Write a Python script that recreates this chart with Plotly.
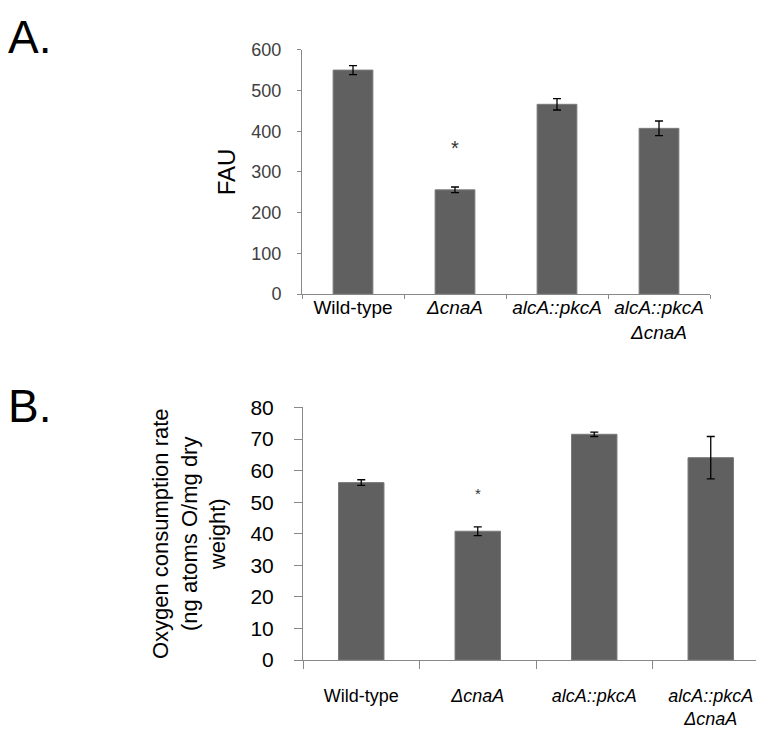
import plotly.graph_objects as go

categories = ["Wild-type", "ΔcnaA", "alcA::pkcA", "alcA::pkcA ΔcnaA"]
tick_labels = ["Wild-type", "<i>ΔcnaA</i>", "<i>alcA::pkcA</i>", "<i>alcA::pkcA</i><br><i>ΔcnaA</i>"]

fau_values = [550, 256, 466, 407]
fau_errors = [11, 7, 14, 18]

oxygen_values = [56.2, 40.8, 71.5, 64.1]
oxygen_errors = [0.9, 1.4, 0.7, 6.7]

y_ticks_fau = [0, 100, 200, 300, 400, 500, 600]
y_ticks_oxy = [0, 10, 20, 30, 40, 50, 60, 70, 80]

BAR = "#606060"
AXIS = "#888888"
FONT = "Arial, Liberation Sans, sans-serif"

fig = go.Figure()

fig.add_trace(go.Bar(
    x=categories, y=fau_values, xaxis="x", yaxis="y",
    marker=dict(color=BAR, line=dict(color="#7a7a7a", width=1)),
    error_y=dict(type="data", array=fau_errors, color="black", thickness=1.3, width=4),
    showlegend=False,
))
fig.add_trace(go.Bar(
    x=categories, y=oxygen_values, xaxis="x2", yaxis="y2",
    marker=dict(color=BAR, line=dict(color="#7a7a7a", width=1)),
    error_y=dict(type="data", array=oxygen_errors, color="black", thickness=1.3, width=4),
    showlegend=False,
))

W, H = 764, 733
fig.update_layout(
    width=W, height=H,
    margin=dict(l=0, r=0, t=0, b=0),
    paper_bgcolor="white", plot_bgcolor="white",
    bargap=0.61,
    font=dict(family=FONT, color="black"),
    xaxis=dict(
        domain=[294 / W, 702 / W], anchor="y",
        type="category", categoryorder="array", categoryarray=categories,
        tickvals=categories, ticktext=tick_labels, tickangle=0,
        tickson="boundaries", ticks="outside", ticklen=4, tickcolor=AXIS,
        showline=True, linecolor=AXIS, linewidth=1, showgrid=False,
        tickfont=dict(size=19, color="black", family=FONT),
        ticklabelstandoff=-4,
    ),
    yaxis=dict(
        domain=[1 - 283 / H, 1 - 30.7 / H], anchor="x",
        range=[0, 600], tickvals=y_ticks_fau,
        ticks="outside", ticklen=4, tickcolor=AXIS,
        showline=True, linecolor=AXIS, linewidth=1, showgrid=False, zeroline=False,
        tickfont=dict(size=18, color="#404040", family=FONT),
        ticklabelstandoff=12,
        title=dict(text="FAU", font=dict(size=24, color="black", family=FONT), standoff=8),
    ),
    xaxis2=dict(
        domain=[295 / W, 761 / W], anchor="y2",
        type="category", categoryorder="array", categoryarray=categories,
        tickvals=categories, ticktext=tick_labels, tickangle=0,
        tickson="boundaries", ticks="outside", ticklen=8, tickcolor=AXIS,
        showline=True, linecolor=AXIS, linewidth=1, showgrid=False,
        tickfont=dict(size=18, color="black", family=FONT),
        ticklabelstandoff=19,
    ),
    yaxis2=dict(
        domain=[1 - 660.8 / H, 1 - 400 / H], anchor="x2",
        range=[0, 80], tickvals=y_ticks_oxy,
        ticks="outside", ticklen=8, tickcolor=AXIS,
        showline=True, linecolor=AXIS, linewidth=1, showgrid=False, zeroline=False,
        tickfont=dict(size=21, color="black", family=FONT),
        ticklabelstandoff=16,
        title=dict(text="Oxygen consumption rate<br>(ng atoms O/mg dry<br>weight)",
                   font=dict(size=22, color="black", family=FONT), standoff=18),
    ),
)

# significance stars above the ΔcnaA bars
fig.add_annotation(x=categories[1], y=fau_values[1] + fau_errors[1], xref="x", yref="y",
                   text="*", showarrow=False, yanchor="bottom", yshift=26,
                   font=dict(size=20, color="#333333", family=FONT))
fig.add_annotation(x=categories[1], y=oxygen_values[1] + oxygen_errors[1], xref="x2", yref="y2",
                   text="*", showarrow=False, yanchor="bottom", yshift=23,
                   font=dict(size=15, color="#333333", family=FONT))

# panel labels
fig.add_annotation(x=0, y=1, xref="paper", yref="paper", xanchor="left", yanchor="top",
                   text="A.", showarrow=False, font=dict(size=46, color="black", family=FONT),
                   xshift=-2, yshift=11)
fig.add_annotation(x=0, y=1 - 378 / H, xref="paper", yref="paper", xanchor="left", yanchor="top",
                   text="B.", showarrow=False, font=dict(size=46, color="black", family=FONT),
                   xshift=-2, yshift=8)

fig.write_html("out.html")
